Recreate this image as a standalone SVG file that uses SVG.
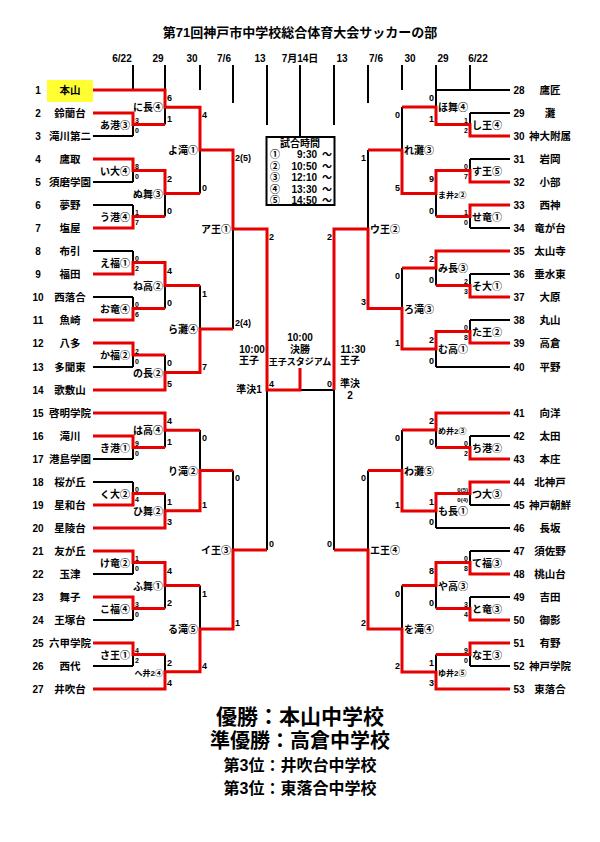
<svg xmlns="http://www.w3.org/2000/svg" width="600" height="842" viewBox="0 0 600 842">
<style>
text{font-family:"Liberation Sans","Noto Sans CJK JP",sans-serif;font-weight:bold;fill:#000}
.b{stroke:#000;stroke-width:2;fill:none}
.r{stroke:#e60000;stroke-width:3;fill:none;stroke-linejoin:miter}
.nm{font-size:10.5px;text-anchor:middle}
.no{font-size:10px;text-anchor:middle}
.ml{font-size:10px;text-anchor:end;font-weight:normal}
.mr{font-size:10px;text-anchor:start;font-weight:normal}
.ms{font-size:8px}
.s7{font-size:7px;font-weight:normal}
.s8{font-size:9px;font-weight:normal}
.e{text-anchor:end}
.d{font-size:10px;text-anchor:middle}
</style>
<rect width="600" height="842" fill="#fff"/>
<text x="300" y="37" font-size="13" text-anchor="middle">第71回神戸市中学校総合体育大会サッカーの部</text>
<g id="dates" class="d">
<text x="122" y="62">6/22</text><text x="158" y="62">29</text><text x="192" y="62">30</text><text x="224" y="62">7/6</text><text x="260" y="62">13</text><text x="300" y="62">7月14日</text><text x="342" y="62">13</text><text x="376" y="62">7/6</text><text x="410" y="62">30</text><text x="443" y="62">29</text><text x="478" y="62">6/22</text>
</g>
<rect x="47" y="80" width="46" height="22" fill="#ffff33"/>
<g id="connectors">
<path class="b" d="M133 65V90M165 65V90M200 65V90M233 65V103M267 65V125M300 65V137M334 65V125M368 65V103M402 65V90M436 65V90M470 65V90
M93 136H133M93 182H133M93 205H133M93 251H133M93 297H133M93 367H133M93 459H133M93 482H133M93 574H133M93 620H133M93 666H133
M133 124.5V136M133 170.5V182M133 205V216.5M133 251V262.5M133 297V308.5M133 355V367M133 447.5V459M133 482V493.5M133 562.5V574M133 608.5V620M133 654.5V666
M165 107.25V124.5M165 193.5V216.5M165 285.5V308.5M165 355V372.5M165 430.25V447.5M165 493.5V510.75M165 585.5V608.5M165 654.5V671.75
M200 150V193.5M200 285.5V329M200 430V470.5M200 585.5V629
M233 229V329M233 470.5V550M267 390V550M300 390H334M334 390V550
M368 150V229M368 470.5V550
M402 107V150M402 268V308.5M402 430V470.5M402 585.5V629
M436 90V107M436 193.5V216.5M436 268V285.5M436 349V367M436 430V447.5M436 511V528M436 585.5V608.5M436 654.5V672
M470 113V124.5M470 159V170.5M470 216.5V228M470 274V285.5M470 320V331.5M470 436V447.5M470 493.5V505M470 551V562.5M470 597V608.5M470 654.5V666
M436 90H510M470 113H510M470 159H510M470 228H510M470 274H510M470 320H510M436 367H510M470 436H510M470 505H510M436 528H510M470 551H510M470 597H510M470 666H510"/>
<path class="r" d="M93 90H165V107.25H200V150H233V229H267V390H300V368
M93 113H133V124.5H165M93 159H133V170.5H165V193.5H200M93 228H133V216.5H165M93 274H133V262.5H165V285.5H200M93 320H133V308.5H165M93 343H133V355H165
M93 390H165V372.5H200V329H233M93 413H165V430.25H200M93 436H133V447.5H165M93 505H133V493.5H165M93 528H165V510.75H200V470.5H233
M93 551H133V562.5H165V585.5H200M93 597H133V608.5H165M93 643H133V654.5H165M93 689H165V671.75H200V629H233V550H267
M510 136H470V124.5H436V107H402M510 182H470V170.5H436V193.5H402V150H368M510 205H470V216.5H436M510 251H436V268H402M510 297H470V285.5H436
M510 343H470V331.5H436V349H402V308.5H368V229H334V390M510 413H436V430H402M510 459H470V447.5H436M510 482H470V493.5H436V511H402V470.5H368
M510 574H470V562.5H436V585.5H402M510 620H470V608.5H436M510 643H470V654.5H436M510 689H436V672H402V629H368V550H334"/>
</g>
<g id="left-teams">
<g class="no"><text x="38" y="94">1</text><text x="38" y="117">2</text><text x="38" y="140">3</text><text x="38" y="163">4</text><text x="38" y="186">5</text><text x="38" y="209">6</text><text x="38" y="232">7</text><text x="38" y="255">8</text><text x="38" y="278">9</text><text x="38" y="301">10</text><text x="38" y="324">11</text><text x="38" y="347">12</text><text x="38" y="371">13</text><text x="38" y="394">14</text><text x="38" y="417">15</text><text x="38" y="440">16</text><text x="38" y="463">17</text><text x="38" y="486">18</text><text x="38" y="509">19</text><text x="38" y="532">20</text><text x="38" y="555">21</text><text x="38" y="578">22</text><text x="38" y="601">23</text><text x="38" y="624">24</text><text x="38" y="647">25</text><text x="38" y="670">26</text><text x="38" y="693">27</text></g>
<g class="nm"><text x="70" y="94">本山</text><text x="70" y="117">鈴蘭台</text><text x="70" y="140">滝川第二</text><text x="70" y="163">鷹取</text><text x="70" y="186">須磨学園</text><text x="70" y="209">夢野</text><text x="70" y="232">塩屋</text><text x="70" y="255">布引</text><text x="70" y="278">福田</text><text x="70" y="301">西落合</text><text x="70" y="324">魚崎</text><text x="70" y="347">八多</text><text x="70" y="371">多聞東</text><text x="70" y="394">歌敷山</text><text x="70" y="417">啓明学院</text><text x="70" y="440">滝川</text><text x="70" y="463">港島学園</text><text x="70" y="486">桜が丘</text><text x="70" y="509">星和台</text><text x="70" y="532">星陵台</text><text x="70" y="555">友が丘</text><text x="70" y="578">玉津</text><text x="70" y="601">舞子</text><text x="70" y="624">王塚台</text><text x="70" y="647">六甲学院</text><text x="70" y="670">西代</text><text x="70" y="693">井吹台</text></g>
</g>
<g id="right-teams">
<g class="no"><text x="519" y="94">28</text><text x="519" y="117">29</text><text x="519" y="140">30</text><text x="519" y="163">31</text><text x="519" y="186">32</text><text x="519" y="209">33</text><text x="519" y="232">34</text><text x="519" y="255">35</text><text x="519" y="278">36</text><text x="519" y="301">37</text><text x="519" y="324">38</text><text x="519" y="347">39</text><text x="519" y="371">40</text><text x="519" y="417">41</text><text x="519" y="440">42</text><text x="519" y="463">43</text><text x="519" y="486">44</text><text x="519" y="509">45</text><text x="519" y="532">46</text><text x="519" y="555">47</text><text x="519" y="578">48</text><text x="519" y="601">49</text><text x="519" y="624">50</text><text x="519" y="647">51</text><text x="519" y="670">52</text><text x="519" y="693">53</text></g>
<g class="nm"><text x="550" y="94">鷹匠</text><text x="550" y="117">灘</text><text x="550" y="140">神大附属</text><text x="550" y="163">岩岡</text><text x="550" y="186">小部</text><text x="550" y="209">西神</text><text x="550" y="232">竜が台</text><text x="550" y="255">太山寺</text><text x="550" y="278">垂水東</text><text x="550" y="301">大原</text><text x="550" y="324">丸山</text><text x="550" y="347">高倉</text><text x="550" y="371">平野</text><text x="550" y="417">向洋</text><text x="550" y="440">太田</text><text x="550" y="463">本庄</text><text x="550" y="486">北神戸</text><text x="550" y="509">神戸朝鮮</text><text x="550" y="532">長坂</text><text x="550" y="555">須佐野</text><text x="550" y="578">桃山台</text><text x="550" y="601">吉田</text><text x="550" y="624">御影</text><text x="550" y="647">有野</text><text x="550" y="670">神戸学院</text><text x="550" y="693">東落合</text></g>
</g>
<g id="left-matches" class="ml">
<text x="130" y="129">あ港③</text><text x="130" y="175">い大④</text><text x="130" y="221">う港④</text><text x="130" y="267">え福①</text><text x="130" y="313">お竜④</text><text x="130" y="359">か福②</text><text x="130" y="452">き港①</text><text x="130" y="498">く大②</text><text x="130" y="567">け竜②</text><text x="130" y="613">こ福④</text><text x="130" y="659">さ王①</text>
<text x="163" y="111">に長④</text><text x="163" y="198">ぬ舞③</text><text x="163" y="290">ね高②</text><text x="163" y="377">の長②</text><text x="163" y="434">は高④</text><text x="163" y="515">ひ舞②</text><text x="163" y="590">ふ舞①</text><text x="163" y="676" class="ms">へ井2④</text>
<text x="198" y="154">よ滝①</text><text x="198" y="333">ら灘④</text><text x="198" y="475">り滝②</text><text x="198" y="633">る滝⑤</text>
<text x="231" y="233">ア王①</text><text x="231" y="554">イ王③</text>
</g>
<g id="right-matches" class="mr">
<text x="472" y="129">し王④</text><text x="472" y="175">す王⑤</text><text x="472" y="221">せ竜①</text><text x="472" y="290">そ大①</text><text x="472" y="336">た王②</text><text x="472" y="452">ち港②</text><text x="472" y="498">つ大③</text><text x="472" y="567">て福③</text><text x="472" y="613">と竜③</text><text x="472" y="659">な王③</text>
<text x="438" y="111">ほ舞④</text><text x="438" y="198" class="ms">ま井2②</text><text x="438" y="272">み長③</text><text x="438" y="353">む高①</text><text x="438" y="434" class="ms">め井2③</text><text x="438" y="515">も長①</text><text x="438" y="590">や高③</text><text x="438" y="676" class="ms">ゆ井2⑤</text>
<text x="404" y="154">れ灘③</text><text x="404" y="313">ろ滝③</text><text x="404" y="475">わ灘⑤</text><text x="404" y="633">を滝④</text>
<text x="370" y="233">ウ王②</text><text x="370" y="554">エ王④</text>
</g>
<g id="scores-left">
<g class="s7"><text x="135" y="123">3</text><text x="135" y="133">0</text><text x="135" y="169">8</text><text x="135" y="179">0</text><text x="135" y="215">1</text><text x="135" y="225">7</text><text x="135" y="261">0</text><text x="135" y="271">2</text><text x="135" y="307">0</text><text x="135" y="317">6</text><text x="135" y="354">2</text><text x="135" y="364">0</text><text x="135" y="446">9</text><text x="135" y="456">0</text><text x="135" y="492">0</text><text x="135" y="502">4</text><text x="135" y="561">1</text><text x="135" y="571">0</text><text x="135" y="607">3</text><text x="135" y="617">0</text><text x="135" y="653">4</text><text x="135" y="663">2</text></g>
<g class="s8"><text x="167" y="101">6</text><text x="167" y="122">1</text><text x="167" y="182">2</text><text x="167" y="214">0</text><text x="167" y="274">4</text><text x="167" y="306">0</text><text x="167" y="366">0</text><text x="167" y="387">5</text><text x="167" y="424">4</text><text x="167" y="445">1</text><text x="167" y="505">1</text><text x="167" y="525">3</text><text x="167" y="574">4</text><text x="167" y="606">2</text><text x="167" y="666">2</text><text x="167" y="686">4</text>
<text x="202" y="118">4</text><text x="202" y="191">0</text><text x="202" y="297">1</text><text x="202" y="370">7</text><text x="202" y="441">0</text><text x="202" y="508">1</text><text x="202" y="597">1</text><text x="202" y="669">4</text>
<text x="235" y="161">2(5)</text><text x="235" y="326">2(4)</text><text x="235" y="481">0</text><text x="235" y="626">1</text>
<text x="269" y="240">2</text><text x="269" y="547">0</text><text x="269" y="387">4</text></g>
</g>
<g id="scores-right" class="e">
<g class="s7"><text x="468" y="123" class="e">1</text><text x="468" y="133" class="e">2</text><text x="468" y="169" class="e">0</text><text x="468" y="179" class="e">7</text><text x="468" y="215" class="e">1</text><text x="468" y="225" class="e">0</text><text x="468" y="284" class="e">2</text><text x="468" y="294" class="e">3</text><text x="468" y="330" class="e">0</text><text x="468" y="340" class="e">8</text><text x="468" y="446" class="e">0</text><text x="468" y="456" class="e">2</text><text x="468" y="492" class="e" font-size="6">0(5)</text><text x="468" y="502" class="e" font-size="6">0(4)</text><text x="468" y="561" class="e">0</text><text x="468" y="571" class="e">8</text><text x="468" y="607" class="e">3</text><text x="468" y="617" class="e">4</text><text x="468" y="653" class="e">9</text><text x="468" y="663" class="e">0</text></g>
<g class="s8"><text x="434" y="101" class="e">0</text><text x="434" y="122" class="e">1</text><text x="434" y="182" class="e">9</text><text x="434" y="214" class="e">0</text><text x="434" y="262" class="e">2</text><text x="434" y="283" class="e">0</text><text x="434" y="343" class="e">2</text><text x="434" y="364" class="e">0</text><text x="434" y="424" class="e">2</text><text x="434" y="445" class="e">0</text><text x="434" y="505" class="e">1</text><text x="434" y="525" class="e">0</text><text x="434" y="574" class="e">8</text><text x="434" y="606" class="e">0</text><text x="434" y="666" class="e">1</text><text x="434" y="686" class="e">3</text>
<text x="400" y="118" class="e">0</text><text x="400" y="191" class="e">5</text><text x="400" y="279" class="e">0</text><text x="400" y="346" class="e">1</text><text x="400" y="441" class="e">0</text><text x="400" y="508" class="e">1</text><text x="400" y="597" class="e">0</text><text x="400" y="669" class="e">2</text>
<text x="366" y="161" class="e">1</text><text x="366" y="305" class="e">3</text><text x="366" y="481" class="e">0</text><text x="366" y="626" class="e">2</text>
<text x="332" y="240" class="e">2</text><text x="332" y="547" class="e">0</text><text x="332" y="387" class="e">0</text></g>
</g>
<g id="schedule">
<rect x="266.5" y="137" width="68" height="68" fill="#fff" stroke="#000" stroke-width="2"/>
<text x="300" y="147" font-size="10" text-anchor="middle">試合時間</text>
<g font-size="10" font-weight="normal"><text x="270" y="158">①</text><text x="270" y="169.5">②</text><text x="270" y="181">③</text><text x="270" y="192.5">④</text><text x="270" y="204">⑤</text></g>
<g font-size="10" font-weight="normal" text-anchor="end"><text x="317" y="158">9:30</text><text x="317" y="169.5">10:50</text><text x="317" y="181">12:10</text><text x="317" y="192.5">13:30</text><text x="317" y="204">14:50</text></g>
<g font-size="10" font-weight="normal"><text x="322" y="158">～</text><text x="322" y="169.5">～</text><text x="322" y="181">～</text><text x="322" y="192.5">～</text><text x="322" y="204">～</text></g>
</g>
<g id="final-info" font-size="10" font-weight="normal" text-anchor="middle">
<text x="300" y="341">10:00</text><text x="300" y="353">決勝</text><text x="300" y="365" font-size="9">王子スタジアム</text>
<text x="252" y="353">10:00</text><text x="249" y="364">王子</text>
<text x="353" y="353">11:30</text><text x="350" y="364">王子</text>
<text x="249" y="393">準決1</text>
<text x="350" y="387">準決</text><text x="350" y="399">2</text>
</g>
<g id="results" text-anchor="middle" font-family="'Noto Sans CJK JP',sans-serif">
<text x="300" y="724" font-size="21" font-weight="900">優勝：本山中学校</text>
<text x="300" y="748" font-size="20" font-weight="900">準優勝：高倉中学校</text>
<text x="300" y="771" font-size="16" font-weight="900">第3位：井吹台中学校</text>
<text x="300" y="794" font-size="16" font-weight="900">第3位：東落合中学校</text>
</g>
</svg>
